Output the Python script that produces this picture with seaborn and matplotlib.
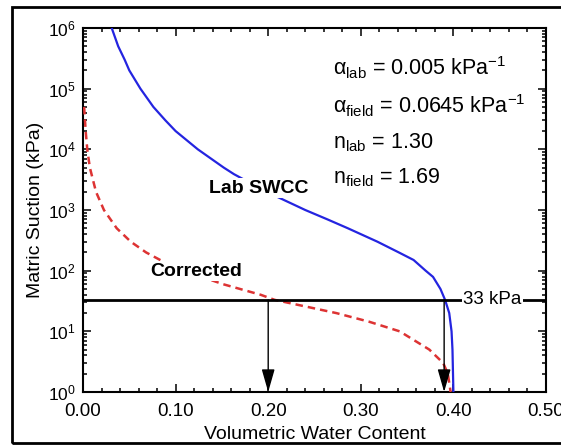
import matplotlib
matplotlib.use("Agg")
import matplotlib.pyplot as plt
from matplotlib.patches import Rectangle
from matplotlib.ticker import MultipleLocator, LogLocator, FormatStrFormatter, NullFormatter
import seaborn as sns
import pandas as pd

# Lab SWCC (solid blue): volumetric water content vs matric suction (kPa)
lab_theta = [0.031, 0.038, 0.045, 0.050, 0.062, 0.076, 0.089, 0.100, 0.124, 0.152,
             0.163, 0.198, 0.240, 0.264, 0.286, 0.318, 0.341, 0.357, 0.370, 0.378,
             0.386, 0.391, 0.3955, 0.398, 0.399, 0.400]
lab_psi = [1e6, 5e5, 3e5, 2e5, 1e5, 5e4, 3e4, 2e4, 1e4, 5e3,
           3.9e3, 2e3, 1e3, 700, 500, 300, 200, 150, 100, 79,
           50, 33, 20, 10, 5, 1]

# Corrected (field) SWCC (dashed red)
corr_theta = [0.0012, 0.0029, 0.0046, 0.0074, 0.014, 0.0226, 0.0364, 0.0516, 0.0681,
              0.0870, 0.109, 0.151, 0.192, 0.207, 0.2735, 0.309, 0.342, 0.374,
              0.389, 0.394, 0.397]
corr_psi = [5e4, 2e4, 1e4, 5e3, 2e3, 1e3, 500, 300, 200,
            140, 100, 60, 40, 33, 20, 14.4, 10, 5,
            3, 2, 1]

# Reference suction and the water contents it gives on each curve
ref_suction = 33
ref_theta = [0.20, 0.39]

params = [r"$\alpha_{\mathrm{lab}}$ = 0.005 kPa$^{\mathrm{-1}}$",
          r"$\alpha_{\mathrm{field}}$ = 0.0645 kPa$^{\mathrm{-1}}$",
          r"n$_{\mathrm{lab}}$ = 1.30",
          r"n$_{\mathrm{field}}$ = 1.69"]
params_logy = [5.34, 4.714, 4.104, 3.527]

sns.set_theme(style="ticks")
plt.rcParams.update({
    "font.family": ["Liberation Sans", "DejaVu Sans"],
    "mathtext.fontset": "custom",
    "mathtext.rm": "Liberation Sans",
    "mathtext.it": "Liberation Sans",
    "mathtext.bf": "Liberation Sans:bold",
    "axes.linewidth": 1.5,
    "axes.edgecolor": "black",
    "text.color": "black",
    "axes.labelcolor": "black",
    "xtick.color": "black",
    "ytick.color": "black",
})

fig = plt.figure(figsize=(5.61, 4.45), dpi=100)
ax = fig.add_axes([83 / 561, 1 - 392 / 445, (546 - 83) / 561, (392 - 28) / 445])

lab_df = pd.DataFrame({"theta": lab_theta, "psi": lab_psi})
corr_df = pd.DataFrame({"theta": corr_theta, "psi": corr_psi})

sns.lineplot(data=lab_df, x="theta", y="psi", sort=False, estimator=None,
             color="#2424e0", lw=1.6, ax=ax, zorder=3)
sns.lineplot(data=corr_df, x="theta", y="psi", sort=False, estimator=None,
             color="#dd3333", lw=1.8, ax=ax, zorder=3, dashes=False)
ax.lines[-1].set_dashes([3, 2])

ax.set_yscale("log")
ax.set_xlim(0, 0.5)
ax.set_ylim(1, 1e6)

# Horizontal reference line at 33 kPa with its label
ax.axhline(ref_suction, color="black", lw=2, zorder=4)
ax.text(0.4417, ref_suction, "33 kPa", ha="center", va="center", fontsize=13.5,
        zorder=5, bbox=dict(facecolor="white", edgecolor="none", pad=1))

for t in ref_theta:
    ax.annotate("", xy=(t, 1), xytext=(t, ref_suction),
                arrowprops=dict(arrowstyle="-|>,head_length=0.7,head_width=0.2",
                                color="black", lw=1, shrinkA=0, shrinkB=0,
                                mutation_scale=20),
                zorder=4)

ax.text(0.190, 10 ** 3.36, "Lab SWCC", ha="center", va="center", fontsize=14,
        fontweight="bold", zorder=5,
        bbox=dict(facecolor="white", edgecolor="none", pad=1))
ax.text(0.122, 10 ** 1.99, "Corrected", ha="center", va="center", fontsize=14,
        fontweight="bold", zorder=5,
        bbox=dict(facecolor="white", edgecolor="none", pad=1))

for s, ly in zip(params, params_logy):
    ax.text(0.270, 10 ** ly, s, ha="left", va="center", fontsize=15.5, zorder=5)

ax.xaxis.set_major_locator(MultipleLocator(0.1))
ax.xaxis.set_minor_locator(MultipleLocator(0.02))
ax.xaxis.set_major_formatter(FormatStrFormatter("%.2f"))
ax.yaxis.set_major_locator(LogLocator(base=10, numticks=10))
ax.yaxis.set_minor_locator(LogLocator(base=10, subs=range(2, 10), numticks=20))
ax.yaxis.set_minor_formatter(NullFormatter())

ax.tick_params(which="both", direction="in", top=True, right=True, width=1.1)
ax.tick_params(which="major", length=6)
ax.tick_params(axis="x", which="major", pad=8, labelsize=13.5)
ax.tick_params(axis="y", which="major", pad=5, labelsize=12.5)
ax.tick_params(which="minor", length=3.2)

ax.set_xlabel("Volumetric Water Content", fontsize=14, labelpad=4)
ax.set_ylabel("Matric Suction (kPa)", fontsize=14, labelpad=3)

# Frame around the figure (its right side runs past the image edge)
fig.patches.append(Rectangle((12 / 561, 1 - 443 / 445), (570 - 12) / 561,
                             (443 - 7) / 445, transform=fig.transFigure,
                             fill=False, edgecolor="black", lw=2))

fig.savefig("out.png", dpi=100)
